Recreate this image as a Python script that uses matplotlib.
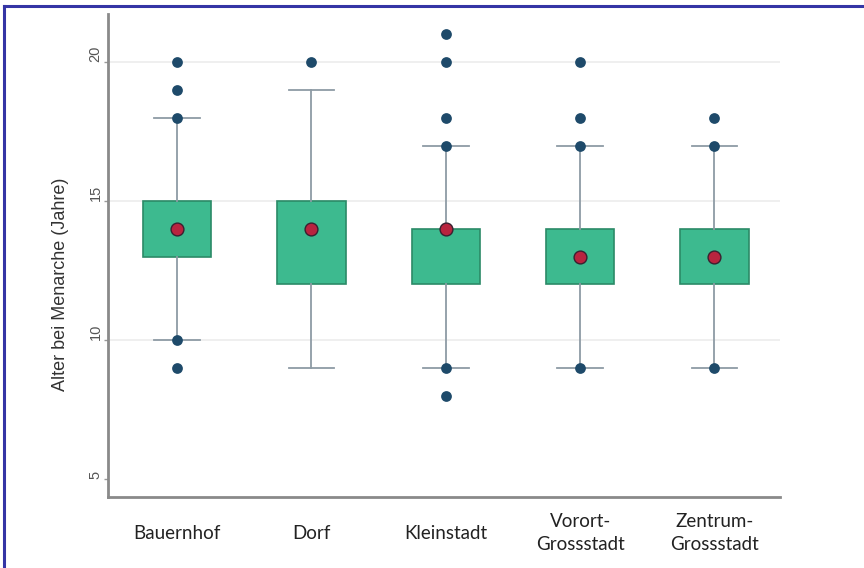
import numpy as np
import matplotlib.pyplot as plt
from matplotlib.lines import Line2D

# Menarche age by place of residence
groups = ["Bauernhof", "Dorf", "Kleinstadt", "Vorort-\nGrossstadt", "Zentrum-\nGrossstadt"]
q1 = [13, 12, 12, 12, 12]
median = [14, 14, 14, 13, 13]
q3 = [15, 15, 14, 14, 14]
whis_lo = [10, 9, 9, 9, 9]
whis_hi = [18, 19, 17, 17, 17]
points = [
    [9, 10, 18, 19, 20],
    [20],
    [8, 9, 17, 18, 20, 21],
    [9, 17, 18, 20],
    [9, 17, 18],
]
yticks = [5, 10, 15, 20]

box_green = "#3dba8f"
edge_green = "#2b8a67"
whisker_grey = "#8e9ba5"
dot_blue = "#1e4a6a"
median_red = "#b8243f"

fig = plt.figure(figsize=(8.64, 5.68), dpi=100)
ax = fig.add_axes([0.125, 0.125, 0.778, 0.85])

pos = np.arange(1, len(groups) + 1)
stats = []
for i in range(len(groups)):
    stats.append(dict(q1=q1[i], med=median[i], q3=q3[i],
                      whislo=whis_lo[i], whishi=whis_hi[i], fliers=[]))

ax.bxp(stats, positions=pos, widths=0.51, patch_artist=True, showfliers=False,
       boxprops=dict(facecolor=box_green, edgecolor=edge_green, linewidth=1.2),
       whiskerprops=dict(color=whisker_grey, linewidth=1.3),
       capprops=dict(color=whisker_grey, linewidth=1.3),
       medianprops=dict(linestyle="none"),
       capwidths=0.34, zorder=2)

for i, vals in enumerate(points):
    ax.scatter([pos[i]] * len(vals), vals, s=60, color=dot_blue, zorder=4, lw=0)

ax.scatter(pos, median, s=85, color=median_red, edgecolor="#3a2030", linewidth=1.0, zorder=5)

ax.set_xlim(0.485, 5.49)
ax.set_ylim(4.35, 21.73)

for v in [10, 15, 20]:
    ax.axhline(v, color="#ececec", linewidth=1.2, zorder=0)

ax.set_yticks(yticks)
ax.set_yticklabels([str(v) for v in yticks], rotation=90, va="bottom",
                   fontsize=10.5, color="#555555", family="Liberation Sans")
ax.tick_params(axis="y", length=3, width=1, color="#999999", pad=1)
ax.set_ylabel("Alter bei Menarche (Jahre)", fontsize=13, color="#333333",
              family="Liberation Sans")
ax.yaxis.set_label_coords(-0.058, 0.44)

ax.set_xticks(pos)
ax.set_xticklabels(groups, fontsize=13.5, color="#222222", family="Lato",
                   linespacing=1.45, va="center")
ax.tick_params(axis="x", length=0, pad=26)

for side in ["top", "right"]:
    ax.spines[side].set_visible(False)
for side in ["left", "bottom"]:
    ax.spines[side].set_color("#8a8a8a")
    ax.spines[side].set_linewidth(2)

# frame lines along the top and left edge
frame = "#3535a5"
fig.add_artist(Line2D([4 / 864, 1], [1 - 6 / 568, 1 - 6 / 568], color=frame, lw=2.2))
fig.add_artist(Line2D([4 / 864, 4 / 864], [0, 1 - 6 / 568], color=frame, lw=2.2))

fig.savefig("out.png", dpi=100)
